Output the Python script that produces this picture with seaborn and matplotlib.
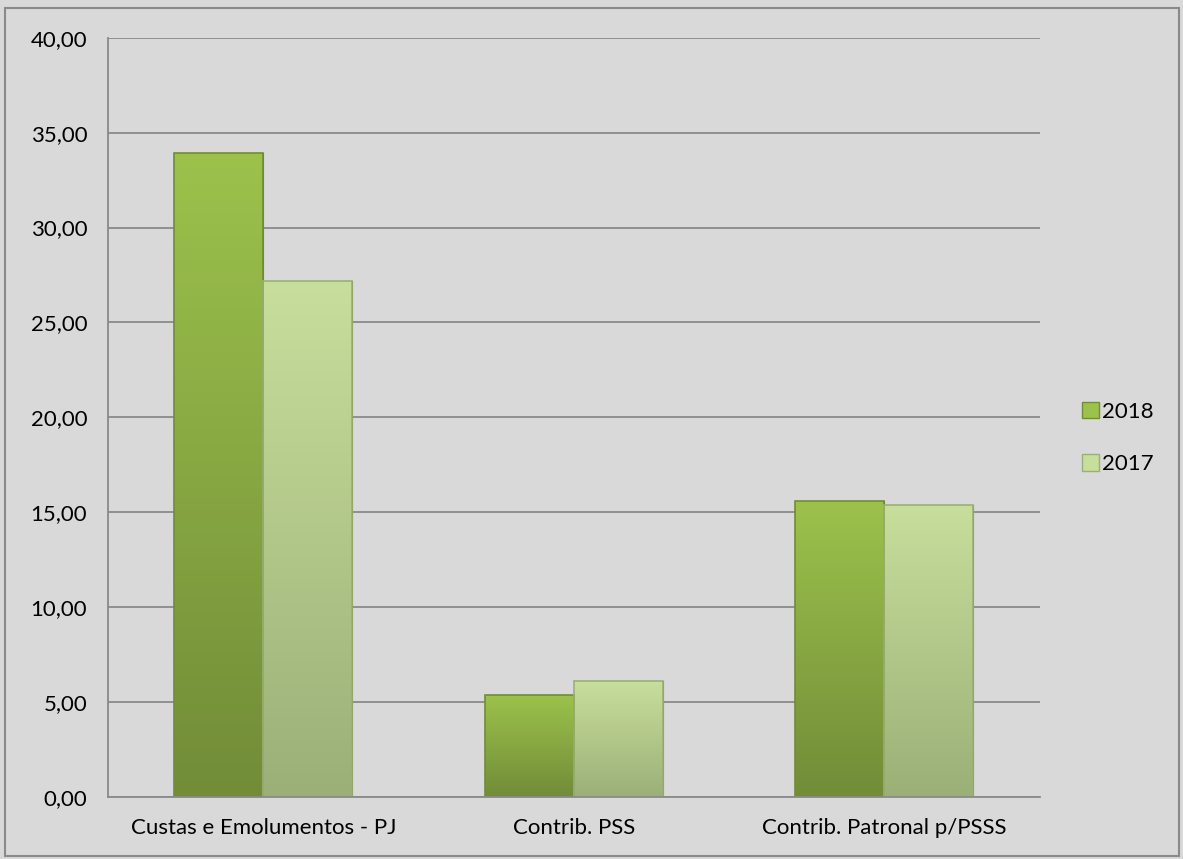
import numpy as np
import pandas as pd
import seaborn as sns
import matplotlib.pyplot as plt
from matplotlib.colors import LinearSegmentedColormap
from matplotlib.patches import Rectangle

categories = ['Custas e Emolumentos - PJ', 'Contrib. PSS', 'Contrib. Patronal p/PSSS']
years = ['2018', '2017']
values_2018 = [33.93, 5.39, 15.58]
values_2017 = [27.16, 6.10, 15.39]
y_ticks = [0, 5, 10, 15, 20, 25, 30, 35, 40]

df = pd.DataFrame({
    'Categoria': categories * 2,
    'Ano': ['2018'] * 3 + ['2017'] * 3,
    'Valor': values_2018 + values_2017,
})

bg = '#d9d9d9'
grid_c = '#8a8a8a'
palette = {'2018': '#8db244', '2017': '#b9d08a'}
grads = {'2018': ('#9cc24c', '#728c38'), '2017': ('#c8de9c', '#9bb077')}

sns.set_style('white')
plt.rcParams['font.family'] = ['Lato', 'DejaVu Sans']
plt.rcParams['text.color'] = 'black'
plt.rcParams['xtick.labelcolor'] = 'black'
plt.rcParams['ytick.labelcolor'] = 'black'

fig = plt.figure(figsize=(11.83, 8.59), dpi=100)
fig.patch.set_facecolor(bg)
ax = fig.add_axes([0.0913, 0.0722, 0.7874, 0.8839])
ax.set_facecolor(bg)

sns.barplot(data=df, x='Categoria', y='Valor', hue='Ano', hue_order=years,
            order=categories, palette=palette, width=0.573, ax=ax,
            edgecolor='#6a7f3a', linewidth=0.8, legend=False)

# vertical gradient inside each bar, brighter towards the top
for cont, yr in zip(ax.containers, years):
    cmap = LinearSegmentedColormap.from_list(yr, [grads[yr][1], grads[yr][0]])
    for bar in cont:
        x0, y0 = bar.get_x(), bar.get_y()
        w, h = bar.get_width(), bar.get_height()
        grad = np.linspace(0, 1, 256).reshape(-1, 1)
        im = ax.imshow(grad, extent=[x0, x0 + w, y0, y0 + h], origin='lower',
                       aspect='auto', cmap=cmap, zorder=bar.get_zorder() + 0.1)
        im.set_clip_path(bar)
        ax.add_patch(Rectangle((x0, y0), w, h, fill=False,
                               edgecolor=grads[yr][1], linewidth=1.2,
                               zorder=bar.get_zorder() + 0.2))

ax.set_xlim(-0.5, 2.5)
ax.set_ylim(0, 40)
ax.set_yticks(y_ticks)
ax.set_yticklabels([f'{v:.2f}'.replace('.', ',') for v in y_ticks], fontsize=16)
ax.yaxis.grid(True, color=grid_c, linewidth=1.3)
ax.set_axisbelow(True)
ax.set_xticks([0, 1, 2])
ax.set_xticklabels(categories, fontsize=16)
ax.set_xticks([-0.5, 0.5, 1.5, 2.5], minor=True)
ax.tick_params(axis='x', which='major', length=0, pad=15)
ax.tick_params(axis='x', which='minor', length=7, color=grid_c, width=1.3)
ax.tick_params(axis='y', length=7, color=grid_c, width=1.3, pad=8)
ax.set_xlabel('')
ax.set_ylabel('')
for s in ['top', 'right']:
    ax.spines[s].set_visible(False)
for s in ['left', 'bottom']:
    ax.spines[s].set_color(grid_c)
    ax.spines[s].set_linewidth(1.3)

handles = [Rectangle((0, 0), 1, 1, facecolor=grads[y][0], edgecolor=grads[y][1]) for y in years]
fig.legend(handles, years, loc='center left', bbox_to_anchor=(0.898, 0.49),
           frameon=False, fontsize=16, handlelength=0.75, handleheight=0.75,
           handletextpad=0.15, labelspacing=1.45)

fig.add_artist(Rectangle((0.004, 0.003), 0.993, 0.988, transform=fig.transFigure,
                         fill=False, edgecolor='#8a8a8a', linewidth=1.5))

fig.savefig('out.png', dpi=100, facecolor=bg)
